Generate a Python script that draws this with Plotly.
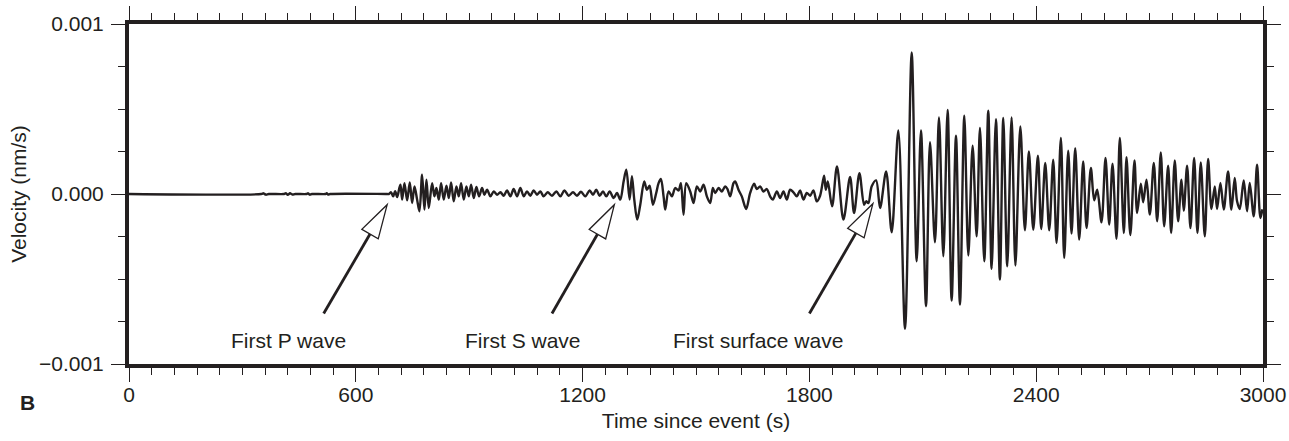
import plotly.graph_objects as go

# Seismogram: ground velocity versus time since the event
time_s = [
    0, 350, 356, 362, 370, 410, 415, 420, 426, 432, 440, 470, 474, 478, 484, 520, 523, 527, 532, 680,
    687.3, 693.5, 698.8, 704.1, 709.4, 714.6, 718.2, 722.6, 728.7, 735.8, 742.8, 749.0, 755.2, 762.2,
    768.4, 775.4, 781.6, 786.9, 793.1, 801.9, 808.0, 813.3, 819.5, 825.7, 832.7, 839.8, 846.0, 852.1,
    859.1, 866.2, 872.4, 878.5, 885.6, 892.6, 898.8, 905.0, 912.0, 919.0, 926.1, 934.0, 940.2, 947.3,
    956.1, 964.9, 973.7, 982.5, 991.3, 1000.1, 1008.9, 1017.7, 1026.6, 1035.4, 1044.2, 1053.0, 1061.8,
    1070.6, 1079.4, 1088.2, 1097.0, 1107.6, 1119.0, 1130.5, 1141.1, 1151.7, 1163.1, 1174.6, 1185.1,
    1195.7, 1207.2, 1218.6, 1227.4, 1236.2, 1245.1, 1253.9, 1262.7, 1271.5, 1282.1, 1290.9, 1299.7,
    1308.5, 1315.6, 1324.4, 1330.5, 1336.7, 1344.5, 1352.5, 1363.1, 1370.1, 1377.2, 1386.0, 1394.8,
    1401.0, 1407.1, 1414.2, 1418.6, 1427.4, 1436.2, 1445.0, 1453.8, 1460.0, 1467.0, 1474.1, 1484.7,
    1493.5, 1502.3, 1511.1, 1519.9, 1528.7, 1537.5, 1544.6, 1550.7, 1559.6, 1568.4, 1577.2, 1583.3,
    1590.4, 1599.2, 1603.6, 1612.4, 1621.2, 1632.7, 1643.3, 1653.8, 1660.9, 1669.7, 1678.5, 1687.3,
    1696.1, 1703.2, 1713.8, 1722.6, 1731.4, 1740.2, 1749.0, 1757.8, 1766.6, 1775.4, 1784.2, 1793.1,
    1801.9, 1810.7, 1819.5, 1828.3, 1838.9, 1843.3, 1848.6, 1860.0, 1873.0, 1890.0, 1907.6, 1918.2,
    1932.3, 1944.6, 1950.0, 1956.0, 1964.9, 1976.4, 1987.0, 2003.0, 2017.7, 2035.3, 2053.0, 2070.6,
    2083.8, 2095.2, 2108.5, 2119.0, 2132.2, 2142.8, 2154.3, 2165.7, 2176.3, 2187.8, 2198.3, 2209.8,
    2220.4, 2231.8, 2242.4, 2251.2, 2262.6, 2273.2, 2282.0, 2293.5, 2304.0, 2312.9, 2323.4, 2334.9,
    2345.0, 2358.0, 2370.1, 2380.7, 2392.2, 2404.5, 2413.3, 2423.9, 2434.5, 2445.0, 2453.9, 2465.3,
    2474.1, 2484.7, 2493.5, 2503.2, 2513.8, 2524.3, 2533.2, 2544.6, 2553.4, 2561.4, 2572.8, 2583.4,
    2593.1, 2601.9, 2612.4, 2621.3, 2631.8, 2638.9, 2649.0, 2660.0, 2667.0, 2676.8, 2683.0, 2691.8,
    2700.6, 2711.1, 2720.0, 2729.6, 2738.5, 2749.0, 2757.0, 2766.6, 2775.5, 2784.3, 2790.4, 2799.2,
    2808.1, 2817.8, 2826.6, 2835.4, 2846.0, 2854.8, 2863.6, 2872.4, 2878.5, 2887.4, 2896.2, 2907.6,
    2916.4, 2925.2, 2931.4, 2938.5, 2949.0, 2957.8, 2964.9, 2975.5, 2984.3, 2993.1, 2998.5,
]

velocity = [
    0, 0, 0.4e-5, -0.4e-5, 0, 0, 0.5e-5, -0.5e-5, 0.4e-5, -0.3e-5, 0, 0, 0.4e-5, -0.4e-5, 0, 0, 0.4e-5, -0.3e-5, 0, 0,
    0, 1.0e-5, -1.4e-5, 1.7e-5, -1.8e-5, 2.9e-5, 5.5e-5, -3.3e-5, 6.4e-5, -3.7e-5, 6.8e-5, -5.3e-5, 4.5e-5, -3.3e-5,
    -10.2e-5, 11.3e-5, -9.2e-5, 8.4e-5, -8.2e-5, 6.4e-5, -1.4e-5, 3.5e-5, -3.3e-5, 6.4e-5, -3.3e-5, 4.9e-5, -2.4e-5, 6.8e-5,
    -4.3e-5, 4.5e-5, -1.4e-5, 6.4e-5, -3.3e-5, 4.5e-5, -1.4e-5, 5.5e-5, -2.4e-5, 4.1e-5, -1.4e-5, 3.5e-5, -0.4e-5, 2.5e-5,
    -1.4e-5, 1.5e-5, -0.4e-5, 1.0e-5, -1.0e-5, 2.1e-5, -1.4e-5, 2.9e-5, -1.4e-5, 3.5e-5, -1.4e-5, 1.5e-5, -1.0e-5,
    2.1e-5, -0.4e-5, 1.5e-5, -1.4e-5, 1.0e-5, -1.0e-5, 1.5e-5, -1.4e-5, 2.1e-5, -1.0e-5, 1.0e-5, -1.0e-5,
    1.3e-5, -1.4e-5, 2.1e-5, -0.4e-5, 2.5e-5, -1.0e-5, 1.5e-5, -1.4e-5, 1.5e-5, -2.4e-5, 0.6e-5, -3.3e-5,
    7.4e-5, 14.3e-5, -3.3e-5, 10.4e-5, -3.3e-5, -15.1e-5, -6.3e-5, 7.4e-5, 2.5e-5, 4.9e-5, -6.3e-5, 0.6e-5,
    6.4e-5, 8.8e-5, -1.4e-5, -9.2e-5, 1.5e-5, -1.4e-5, 3.5e-5, 2.1e-5, 6.4e-5, -12.2e-5, 6.4e-5, 1.5e-5,
    -5.3e-5, 4.5e-5, 1.5e-5, 5.5e-5, -1.4e-5, -5.3e-5, 3.5e-5, 0.6e-5, 3.5e-5, 1.5e-5, 4.5e-5, 2.9e-5,
    -1.4e-5, 6.4e-5, 7.4e-5, 2.5e-5, -1.4e-5, -8.8e-5, 0.6e-5, 6.0e-5, 2.9e-5, 4.5e-5, 1.5e-5, 2.9e-5,
    -1.4e-5, -3.3e-5, 1.5e-5, -2.4e-5, 1.5e-5, -3.3e-5, 2.5e-5, 1.0e-5, -1.4e-5, 2.1e-5, -3.3e-5, 0.6e-5,
    -1.0e-5, 2.1e-5, -4.3e-5, -1.0e-5, 10.8e-5, 2.5e-5, 7.4e-5, -7.3e-5, 16.2e-5, -15.1e-5, 10.0e-5, -11.2e-5,
    12.3e-5, -6.3e-5, -4.3e-5, -5.3e-5, 4.5e-5, 8.0e-5, -8.2e-5, 13.3e-5, -22.5e-5, 37.4e-5, -79.3e-5, 83.2e-5,
    -39.6e-5, 37.4e-5, -66.0e-5, 30.4e-5, -28.4e-5, 45.0e-5, -36.6e-5, 49.5e-5, -62.7e-5, 34.3e-5, -65.0e-5, 46.0e-5,
    -36.2e-5, 28.4e-5, -24.9e-5, 38.8e-5, -39.6e-5, 49.0e-5, -44.0e-5, 44.0e-5, -50.3e-5, 44.7e-5, -42.5e-5, 45.0e-5,
    -42.1e-5, 39.8e-5, -21.3e-5, 25.0e-5, -21.0e-5, 22.5e-5, -20.6e-5, 18.2e-5, -21.3e-5, 20.2e-5, -28.8e-5, 32.9e-5,
    -37.6e-5, 25.5e-5, -23.3e-5, 27.0e-5, -26.8e-5, 19.2e-5, -20.0e-5, 15.3e-5, -3.7e-5, 2.5e-5, -16.6e-5, 21.2e-5,
    -18.0e-5, 17.8e-5, -26.4e-5, 32.9e-5, -22.9e-5, 21.7e-5, -24.2e-5, 19.8e-5, -11.2e-5, 6.0e-5, -4.9e-5, 8.4e-5,
    -12.1e-5, 18.2e-5, -16.0e-5, 24.5e-5, -19.0e-5, 16.6e-5, -22.9e-5, 19.8e-5, -16.0e-5, 8.4e-5, -9.8e-5, 16.6e-5,
    -20.0e-5, 21.2e-5, -22.9e-5, 18.6e-5, -24.9e-5, 20.6e-5, -8.8e-5, 4.5e-5, -8.8e-5, 6.5e-5, -9.2e-5, 13.3e-5,
    -9.2e-5, 9.4e-5, -4.3e-5, -8.8e-5, 8.0e-5, -10.2e-5, 6.5e-5, -13.1e-5, 17.2e-5, -14.1e-5, -9.0e-5,
]

# Arrival labels: text, arrow tip (time, velocity), arrow tail (time, velocity), label position
arrival_labels = ["First P wave", "First S wave", "First surface wave"]
arrow_tips = [(683, -0.63e-4), (1284, -0.63e-4), (1968, -0.57e-4)]
arrow_tails = [(515, -7.03e-4), (1119, -7.03e-4), (1800, -7.03e-4)]
label_pos = [(422, -8.62e-4), (1042, -8.62e-4), (1664, -8.62e-4)]

INK = "#231f20"
FONT = "Liberation Sans, Arial, Helvetica, sans-serif"
FS = 21

W, H = 1289, 441
M_L, M_R, M_T, M_B = 129, 26, 24, 77
X_RANGE = (0, 3000)
Y_RANGE = (-0.001, 0.001)
plot_w = W - M_L - M_R
plot_h = H - M_T - M_B
sx = plot_w / (X_RANGE[1] - X_RANGE[0])      # px per second
sy = plot_h / (Y_RANGE[1] - Y_RANGE[0])      # px per velocity unit

fig = go.Figure()
fig.add_trace(go.Scatter(
    x=time_s, y=velocity, mode="lines",
    line=dict(color=INK, width=2.4, shape="spline", smoothing=0.9),
    hoverinfo="skip", showlegend=False,
))

shapes = []
annotations = []
HEAD_LEN, HEAD_HALF = 34.0, 9.5
for text, tip, tail, lp in zip(arrival_labels, arrow_tips, arrow_tails, label_pos):
    # work in pixel space (y up), then convert back to data units
    dx = (tail[0] - tip[0]) * sx
    dy = (tail[1] - tip[1]) * sy
    n = (dx * dx + dy * dy) ** 0.5
    ux, uy = dx / n, dy / n
    bx, by = ux * HEAD_LEN, uy * HEAD_LEN
    px, py = -uy * HEAD_HALF, ux * HEAD_HALF
    base = (tip[0] + bx / sx, tip[1] + by / sy)
    w1 = (tip[0] + (bx + px) / sx, tip[1] + (by + py) / sy)
    w2 = (tip[0] + (bx - px) / sx, tip[1] + (by - py) / sy)
    shapes.append(dict(type="line", xref="x", yref="y",
                       x0=tail[0], y0=tail[1], x1=base[0], y1=base[1],
                       line=dict(color=INK, width=2.8)))
    path = "M {} {} L {} {} L {} {} Z".format(tip[0], tip[1], w1[0], w1[1], w2[0], w2[1])
    shapes.append(dict(type="path", xref="x", yref="y", path=path,
                       fillcolor="white", line=dict(color=INK, width=1.3)))
    annotations.append(dict(x=lp[0], y=lp[1], xref="x", yref="y", text=text,
                            showarrow=False, font=dict(size=FS, color=INK, family=FONT),
                            xanchor="center", yanchor="middle"))

annotations.append(dict(x=(27 - M_L) / plot_w, y=(M_T + plot_h - 402) / plot_h,
                        xref="paper", yref="paper", text="<b>B</b>", showarrow=False,
                        font=dict(size=FS, color=INK, family=FONT),
                        xanchor="center", yanchor="middle"))

axis_common = dict(
    showline=True, linewidth=4, linecolor=INK, mirror="allticks",
    ticks="outside", ticklen=14, tickwidth=1.3, tickcolor=INK,
    showgrid=False, zeroline=False, automargin=False,
    tickfont=dict(size=FS, color=INK, family=FONT),
)

fig.update_layout(
    width=W, height=H,
    margin=dict(l=M_L, r=M_R, t=M_T, b=M_B, pad=0),
    paper_bgcolor="white", plot_bgcolor="white",
    font=dict(family=FONT, color=INK, size=FS),
    shapes=shapes, annotations=annotations,
    xaxis=dict(range=list(X_RANGE), tick0=0, dtick=600, ticklabelstandoff=-5,
               minor=dict(dtick=60, ticks="outside", ticklen=7, tickwidth=1.3, tickcolor=INK, showgrid=False),
               title=dict(text="Time since event (s)", font=dict(size=FS, color=INK, family=FONT), standoff=9),
               **axis_common),
    yaxis=dict(range=list(Y_RANGE), tick0=0, dtick=0.001, tickformat=".3f", ticklabelstandoff=3,
               minor=dict(dtick=0.00025, ticks="outside", ticklen=7, tickwidth=1.3, tickcolor=INK, showgrid=False),
               title=dict(text="Velocity (nm/s)", font=dict(size=FS, color=INK, family=FONT), standoff=8),
               **axis_common),
)

fig.write_html("out.html")
